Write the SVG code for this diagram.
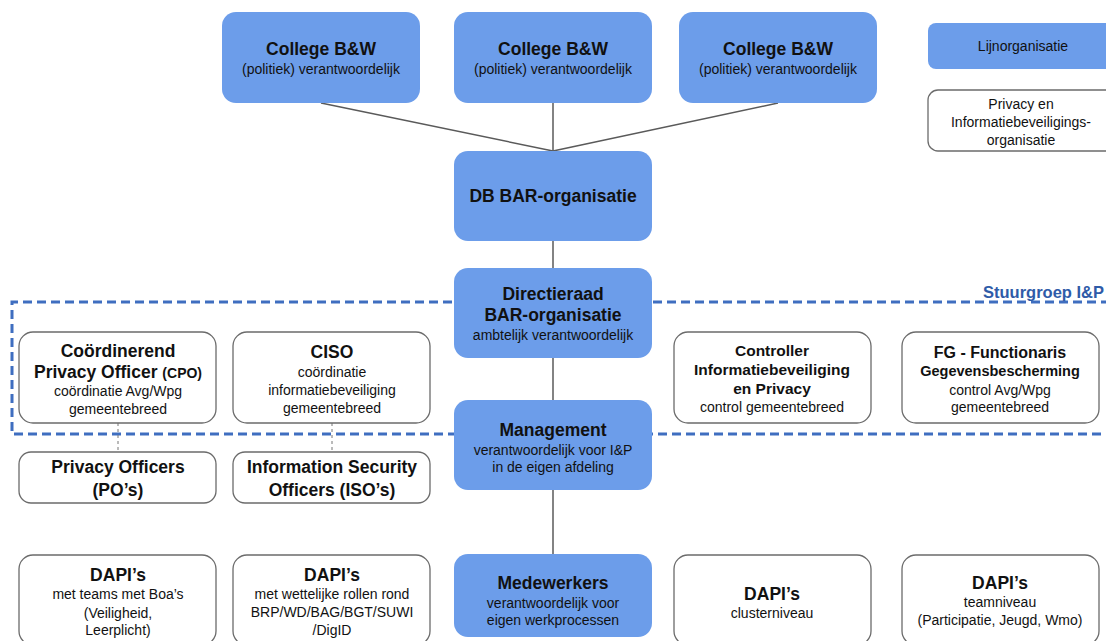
<svg xmlns="http://www.w3.org/2000/svg" width="1106" height="641" viewBox="0 0 1106 641">
<style>
.blue{fill:#6C9DEA;}
.white{fill:#fff;stroke:#6b6b6b;stroke-width:1.3;}
text{font-family:"Liberation Sans",Arial,sans-serif;fill:#111;text-anchor:middle;}
.t{font-size:17.5px;font-weight:bold;}
.tm{font-size:15.5px;font-weight:bold;}
.ts{font-size:14.5px;font-weight:bold;}
.s{font-size:14px;}
.con{stroke:#5a5a5a;stroke-width:1.5;fill:none;}
.dot{stroke:#777;stroke-width:1;stroke-dasharray:3,3;fill:none;}
.grp{stroke:#3F6EC0;stroke-width:3;stroke-dasharray:9,5;fill:none;}
</style>
<rect width="1106" height="641" fill="#fff"/>
<g id="stuurgroep">
<path class="grp" d="M1110,302 H12 V434 H1110"/>
<text x="1104" y="298" style="font-size:16.5px;font-weight:bold;fill:#2F5BA8;text-anchor:end">Stuurgroep I&amp;P</text>
</g>
<g id="connectors">
<line class="con" x1="321" y1="103" x2="553" y2="151"/>
<line class="con" x1="553" y1="103" x2="553" y2="151"/>
<line class="con" x1="778" y1="103" x2="553" y2="151"/>
<line class="con" x1="553" y1="241" x2="553" y2="268"/>
<line class="con" x1="553" y1="358" x2="553" y2="400"/>
<line class="con" x1="553" y1="490" x2="553" y2="554"/>
<line class="dot" x1="118" y1="423" x2="118" y2="452"/>
<line class="dot" x1="332" y1="423" x2="332" y2="452"/>
</g>
<g id="college1"><rect class="blue" x="222" y="12" width="198" height="91" rx="14"/>
<text class="t" x="321" y="55">College B&amp;W</text><text class="s" x="321" y="74">(politiek) verantwoordelijk</text></g>
<g id="college2"><rect class="blue" x="454" y="12" width="198" height="91" rx="14"/>
<text class="t" x="553" y="55">College B&amp;W</text><text class="s" x="553" y="74">(politiek) verantwoordelijk</text></g>
<g id="college3"><rect class="blue" x="679" y="12" width="198" height="91" rx="14"/>
<text class="t" x="778" y="55">College B&amp;W</text><text class="s" x="778" y="74">(politiek) verantwoordelijk</text></g>
<g id="legend-lijn"><rect class="blue" x="928" y="23" width="192" height="46" rx="8"/>
<text class="s" x="1023" y="51">Lijnorganisatie</text></g>
<g id="legend-pib"><rect class="white" x="928" y="90" width="192" height="61" rx="10"/>
<text class="s" x="1021" y="109">Privacy en</text><text class="s" x="1021" y="127">Informatiebeveiligings-</text><text class="s" x="1021" y="145">organisatie</text></g>
<g id="db"><rect class="blue" x="454" y="151" width="198" height="90" rx="14"/>
<text class="t" x="553" y="202">DB BAR-organisatie</text></g>
<g id="directieraad"><rect class="blue" x="454" y="268" width="198" height="90" rx="14"/>
<text class="t" x="553" y="300">Directieraad</text><text class="t" x="553" y="321">BAR-organisatie</text><text class="s" x="553" y="340">ambtelijk verantwoordelijk</text></g>
<g id="cpo"><rect class="white" x="19" y="332" width="197" height="91" rx="14"/>
<text class="t" x="118" y="357">Coördinerend</text><text class="t" x="118" y="378">Privacy Officer <tspan style="font-size:14px">(CPO)</tspan></text>
<text class="s" x="118" y="396">coördinatie Avg/Wpg</text><text class="s" x="118" y="414">gemeentebreed</text></g>
<g id="ciso"><rect class="white" x="233" y="332" width="197" height="91" rx="14"/>
<text class="t" x="332" y="358">CISO</text><text class="s" x="332" y="377">coördinatie</text>
<text class="s" x="332" y="395">informatiebeveiliging</text><text class="s" x="332" y="413">gemeentebreed</text></g>
<g id="controller"><rect class="white" x="674" y="332" width="197" height="91" rx="14"/>
<text class="tm" x="772" y="356">Controller</text><text class="tm" x="772" y="375">Informatiebeveiliging</text>
<text class="tm" x="772" y="394">en Privacy</text><text class="s" x="772" y="412">control gemeentebreed</text></g>
<g id="fg"><rect class="white" x="902" y="332" width="197" height="91" rx="14"/>
<text x="1000" y="358" style="font-size:16px;font-weight:bold">FG - Functionaris</text><text class="ts" x="1000" y="376">Gegevensbescherming</text>
<text class="s" x="1000" y="395">control Avg/Wpg</text><text class="s" x="1000" y="412">gemeentebreed</text></g>
<g id="management"><rect class="blue" x="454" y="400" width="198" height="90" rx="14"/>
<text class="t" x="553" y="436">Management</text><text class="s" x="553" y="455">verantwoordelijk voor I&amp;P</text><text class="s" x="553" y="472">in de eigen afdeling</text></g>
<g id="po"><rect class="white" x="19" y="452" width="197" height="51" rx="12"/>
<text class="t" x="118" y="473">Privacy Officers</text><text class="t" x="118" y="496">(PO’s)</text></g>
<g id="iso"><rect class="white" x="233" y="452" width="197" height="51" rx="12"/>
<text class="t" x="332" y="473">Information Security</text><text class="t" x="332" y="496">Officers (ISO’s)</text></g>
<g id="dapi1"><rect class="white" x="19" y="555" width="197" height="90" rx="14"/>
<text class="t" x="118" y="581">DAPI’s</text><text class="s" x="118" y="599">met teams met Boa’s</text>
<text class="s" x="118" y="618">(Veiligheid,</text><text class="s" x="118" y="635">Leerplicht)</text></g>
<g id="dapi2"><rect class="white" x="233" y="555" width="197" height="90" rx="14"/>
<text class="t" x="332" y="581">DAPI’s</text><text class="s" x="332" y="599">met wettelijke rollen rond</text>
<text class="s" x="332" y="617">BRP/WD/BAG/BGT/SUWI</text><text class="s" x="332" y="635">/DigID</text></g>
<g id="medewerkers"><rect class="blue" x="454" y="554" width="198" height="83" rx="14"/>
<text class="t" x="553" y="589">Medewerkers</text><text class="s" x="553" y="608">verantwoordelijk voor</text><text class="s" x="553" y="625">eigen werkprocessen</text></g>
<g id="dapi3"><rect class="white" x="674" y="555" width="197" height="90" rx="14"/>
<text class="t" x="772" y="600">DAPI’s</text><text class="s" x="772" y="618">clusterniveau</text></g>
<g id="dapi4"><rect class="white" x="902" y="555" width="197" height="90" rx="14"/>
<text class="t" x="1000" y="589">DAPI’s</text><text class="s" x="1000" y="607">teamniveau</text><text class="s" x="1000" y="625">(Participatie, Jeugd, Wmo)</text></g>
</svg>
